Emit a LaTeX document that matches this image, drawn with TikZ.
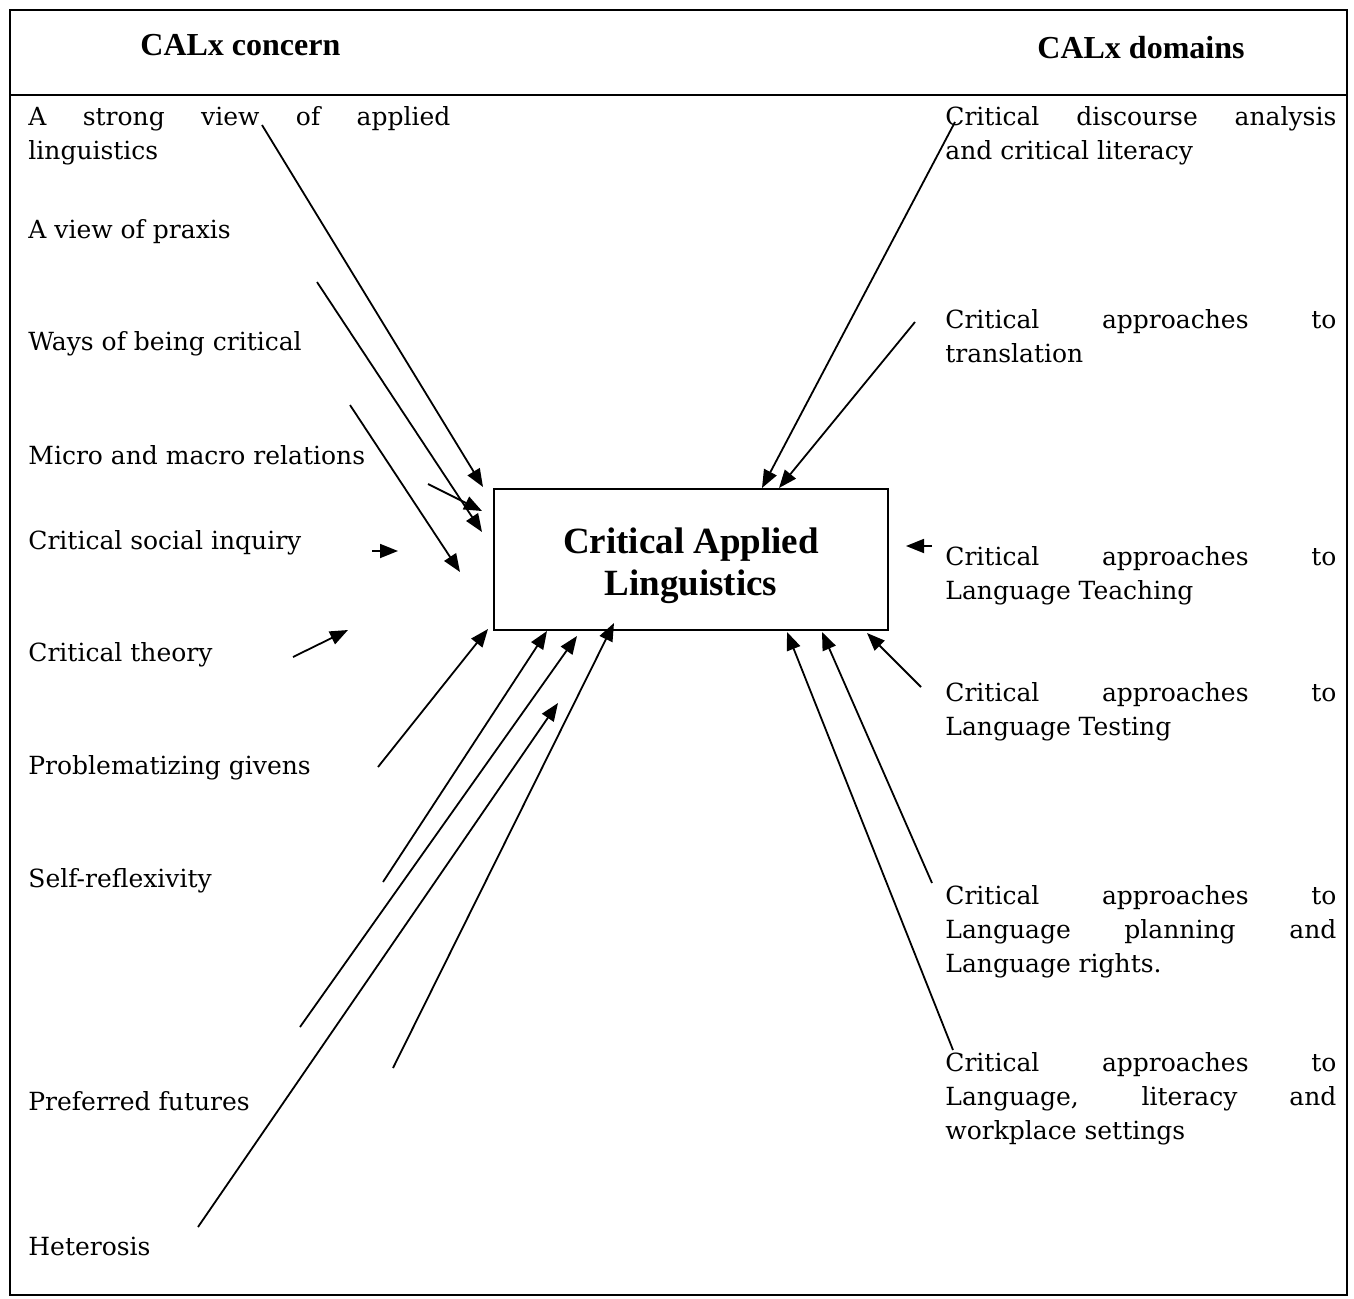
\documentclass[tikz,border=0pt]{standalone}
\usepackage{fontspec}
\setmainfont{DejaVu Serif}
\newfontfamily\titlefont{Liberation Serif}
\usetikzlibrary{arrows.meta}
\newcommand{\jline}[2]{\makebox[#1][s]{#2}}
\begin{document}
\begin{tikzpicture}[x=0.5pt,y=-0.5pt,
  lab/.style={anchor=base west, inner sep=0pt, font=\fontsize{12.5}{17}\selectfont, align=left},
  hdr/.style={anchor=base west, inner sep=0pt, font=\titlefont\bfseries\fontsize{16}{19}\selectfont},
  arr/.style={line width=0.9pt, -{Triangle[length=9pt,width=7pt]}},
  framestyle/.style={line width=1pt}]
\useasboundingbox (0,0) rectangle (1354,1299);
\draw[framestyle] (10,10) rectangle (1347,1295);
\draw[framestyle] (10,95) -- (1347,95);
% headers
\node[hdr] (hconcern) at (140,56) {CALx concern};
\node[hdr] (hdomains) at (1037,59) {CALx domains};
% central box
\node[draw, line width=1pt, minimum width=197pt, minimum height=70.5pt, inner sep=0pt] (cal) at (691,559.5) {};
\node[align=center, inner sep=0pt, font=\titlefont\bfseries\fontsize{18.5}{21}\selectfont] (caltitle) at (691,566)
  {Critical Applied\\Linguistics};
% left labels (anchor = baseline of last line)
\node[lab] (l1) at (28,160) {\jline{211pt}{A strong view of applied}\\linguistics};
\node[lab] (l2) at (28,239) {A view of praxis};
\node[lab] (l3) at (28,351) {Ways of being critical};
\node[lab] (l4) at (28,464) {Micro and macro relations};
\node[lab] (l5) at (28,549) {Critical social inquiry};
\node[lab] (l6) at (28,661) {Critical theory};
\node[lab] (l7) at (28,774) {Problematizing givens};
\node[lab] (l8) at (28,887) {Self-reflexivity};
\node[lab] (l9) at (28,1110) {Preferred futures};
\node[lab] (l10) at (28,1255) {Heterosis};
% right labels (anchor = baseline of last line)
\node[lab] (r1) at (945,160) {\jline{195.5pt}{Critical discourse analysis}\\and critical literacy};
\node[lab] (r2) at (945,363) {\jline{195.5pt}{Critical approaches to}\\translation};
\node[lab] (r3) at (945,599) {\jline{195.5pt}{Critical approaches to}\\Language Teaching};
\node[lab] (r4) at (945,735) {\jline{195.5pt}{Critical approaches to}\\Language Testing};
\node[lab] (r5) at (945,972) {\jline{195.5pt}{Critical approaches to}\\\jline{195.5pt}{Language planning and}\\Language rights.};
\node[lab] (r6) at (945,1139) {\jline{195.5pt}{Critical approaches to}\\\jline{195.5pt}{Language, literacy and}\\workplace settings};
% arrows
\foreach \n/\sx/\sy/\tx/\ty in {
  a1/262/125/483/487, a2/317/282/482/532, a3/428/484/482/511, a4/350/405/460/572,
  a5/372/551/398/551, a6/293/657/348/630, a7/378/767/488/629, a8/383/882/547/631,
  a9/300/1027/577/636, a10/198/1227/558/703, a11/393/1068/614/623,
  b1/955/122/762/488, b2/915/322/779/488, b3/932/546/906/546, b4/921/687/867/633,
  b5/932/883/822/632, b6/953/1050/787/632}{
  \coordinate (s\n) at (\sx,\sy);
  \coordinate (t\n) at (\tx,\ty);
  \draw[arr] (s\n) -- (t\n);
}
\end{tikzpicture}
\end{document}
